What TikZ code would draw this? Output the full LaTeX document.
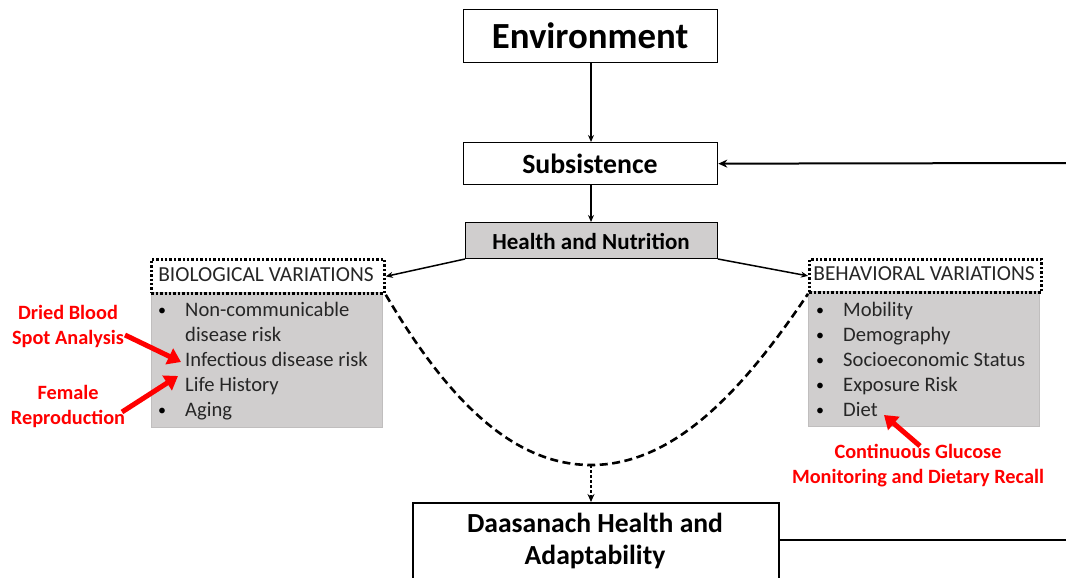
\documentclass[tikz,border=0pt]{standalone}
\usepackage{fontspec}
\setmainfont{Carlito}
\usetikzlibrary{arrows.meta}
\definecolor{boxgray}{HTML}{D0CECE}
\definecolor{labred}{HTML}{FF0000}
\tikzset{
  mainbox/.style={draw, line width=1.3pt, inner sep=0pt, anchor=north west},
  hdrbox/.style={draw, line width=2.8pt, dash pattern=on 2.4pt off 2pt, inner sep=0pt, anchor=north west},
  graybox/.style={fill=boxgray, draw=boxgray!80!gray, line width=0.6pt, inner sep=0pt, anchor=north west},
  conn/.style={line width=1.5pt, -{Stealth[length=7pt,width=6pt]}},
  redarrow/.style={draw=labred, line width=5pt, -{Triangle[length=13pt,width=17pt]}},
  redlab/.style={text=labred, font=\bfseries\fontsize{20.3}{25}\selectfont, align=center},
  item/.style={anchor=base west, font=\fontsize{20.6}{22}\selectfont, text=black!85, inner sep=0pt},
  bul/.style={anchor=base, font=\fontsize{16}{20}\selectfont, inner sep=0pt}
}
\begin{document}
\begin{tikzpicture}[x=1pt,y=-1pt]
\useasboundingbox (0,0) rectangle (1066,578);
% main boxes
\node[mainbox, minimum width=254pt, minimum height=53pt] (env) at (463,9) {};
\node[font=\bfseries\fontsize{36.8}{40}\selectfont] (envt) at (590,36) {Environment};
\node[mainbox, minimum width=254pt, minimum height=42pt] (sub) at (463,142) {};
\node[font=\bfseries\fontsize{27.8}{30}\selectfont] (subt) at (590,164) {Subsistence};
\node[mainbox, fill=boxgray, minimum width=252pt, minimum height=36pt, line width=1pt] (hn) at (465,222) {};
\node[font=\bfseries\fontsize{23}{25}\selectfont] (hnt) at (591,241) {Health and Nutrition};
\node[mainbox, line width=2.4pt, minimum width=366pt, minimum height=90pt] (daa) at (412,502) {};
\node[font=\bfseries\fontsize{27.6}{32}\selectfont, align=center] (daat) at (595,541) {Daasanach Health and\\Adaptability};

% biological
\node[graybox, minimum width=231pt, minimum height=135pt] (biog) at (151,292) {};
\node[hdrbox, minimum width=233pt, minimum height=34pt] (bioh) at (150,258) {};
\node[font=\fontsize{21.4}{24}\selectfont, text=black!85] (biot) at (266,275) {BIOLOGICAL VARIATIONS};
\node[bul] (b1) at (162,315) {•};
\node[item] (i1) at (185,316) {Non-communicable};
\node[item] (i2) at (185,341) {disease risk};
\node[item] (i3) at (185,366) {Infectious disease risk};
\node[item] (i4) at (185,391) {Life History};
\node[bul] (b5) at (162,415) {•};
\node[item] (i5) at (185,416) {Aging};

% behavioral
\node[graybox, minimum width=231pt, minimum height=135pt] (behg) at (808,291) {};
\node[hdrbox, minimum width=232pt, minimum height=33pt] (behh) at (808,258) {};
\node[font=\fontsize{21.4}{24}\selectfont, text=black!85] (beht) at (924,274) {BEHAVIORAL VARIATIONS};
\node[bul] (c1) at (820,315) {•};
\node[item] (j1) at (843,316) {Mobility};
\node[bul] (c2) at (820,340) {•};
\node[item] (j2) at (843,341) {Demography};
\node[bul] (c3) at (820,365) {•};
\node[item] (j3) at (843,366) {Socioeconomic Status};
\node[bul] (c4) at (820,390) {•};
\node[item] (j4) at (843,391) {Exposure Risk};
\node[bul] (c5) at (820,415) {•};
\node[item] (j5) at (843,416) {Diet};

% connectors
\draw[conn] (env.south -| 591,0) -- (sub.north -| 591,0);
\draw[conn] (sub.south -| 591,0) -- (hn.north -| 591,0);
\coordinate (rtop) at (1066,163);
\draw[conn, line width=2pt, -{Stealth[length=9pt,width=8pt]}] (rtop) -- (sub.east);
\coordinate (rbot) at (1066,540);
\draw[line width=2.4pt] (daa.east |- rbot) -- (rbot);
\draw[conn] (hn.south west) -- (bioh.east);
\draw[conn] (hn.south east) -- (behh.west);
\coordinate (vb) at (591,465);
\draw[line width=2.6pt, dash pattern=on 8pt off 4.5pt] (bioh.south east) .. controls (445,395) and (510,465) .. (vb) .. controls (672,465) and (740,395) .. (behh.south west);
\draw[line width=2pt, dash pattern=on 2.5pt off 2.5pt, -{Stealth[length=8pt,width=7pt]}] (vb) -- (daa.north -| vb);

% red labels
\node[redlab] (dbs) at (68,326) {Dried Blood\\Spot Analysis};
\node[redlab] (fr) at (68,406) {Female\\Reproduction};
\node[redlab] (cgm) at (918,466) {Continuous Glucose\\Monitoring and Dietary Recall};
\coordinate (a1) at (181,362);
\coordinate (a2) at (178,376);
\coordinate (a3) at (884,415);
\draw[redarrow] (125,335) -- (a1);
\draw[redarrow] (122,412) -- (a2);
\draw[redarrow] (920,446) -- (a3);
\end{tikzpicture}
\end{document}
